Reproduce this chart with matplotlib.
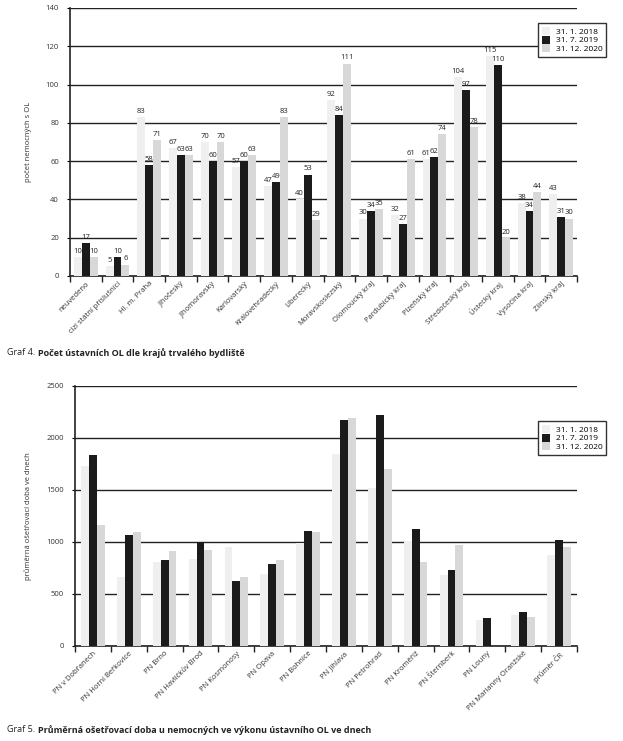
import matplotlib
matplotlib.use('Agg')
import matplotlib.pyplot as plt
import numpy as np

plt.rcParams['font.family'] = ['Open Sans', 'DejaVu Sans']

# Graf 4 data
kraje = ['neuvedeno', 'cizí státní příslušníci', 'Hl. m. Praha', 'Jihočeský',
         'Jihomoravský', 'Karlovarský', 'Královehradecký', 'Liberecký',
         'Moravskoslezský', 'Olomoucký kraj', 'Pardubický kraj', 'Plzeňský kraj',
         'Středočeský kraj', 'Ústecký kraj', 'Vysočina kraj', 'Zlínský kraj']
ol_2018 = [10, 5, 83, 67, 70, 57, 47, 40, 92, 30, 32, 61, 104, 115, 38, 43]
ol_2019 = [17, 10, 58, 63, 60, 60, 49, 53, 84, 34, 27, 62, 97, 110, 34, 31]
ol_2020 = [10, 6, 71, 63, 70, 63, 83, 29, 111, 35, 61, 74, 78, 20, 44, 30]
labels4 = ['31. 1. 2018', '31. 7. 2019', '31. 12. 2020']

# Graf 5 data
pn = ['PN v Dobřanech', 'PN Horní Beřkovice', 'PN Brno', 'PN Havlíčkův Brod',
      'PN Kosmonosy', 'PN Opava', 'PN Bohnice', 'PN Jihlava', 'PN Petrohrad',
      'PN Kroměříž', 'PN Šternberk', 'PN Louny', 'PN Marianny Oranžské', 'průměr ČR']
doba_2018 = [1730, 665, 810, 835, 950, 695, 990, 1845, 1520, 1010, 685, 250, 300, 875]
doba_2019 = [1840, 1065, 825, 1000, 625, 790, 1105, 2175, 2220, 1125, 730, 270, 325, 1020]
doba_2020 = [1165, 1095, 915, 925, 665, 825, 1095, 2195, 1700, 810, 975, 0, 280, 950]
labels5 = ['31. 1. 2018', '21. 7. 2019', '31. 12. 2020']

colors = ['#efefef', '#1b1b1b', '#d8d8d8']


def bar_chart(ax, cats, series, names, width, ymax, ystep, ylabel, values=False):
    x = np.arange(len(cats))
    for i, (s, c, n) in enumerate(zip(series, colors, names)):
        bars = ax.bar(x + (i - 1) * width, s, width, color=c, label=n, zorder=3)
        if values:
            for b, v in zip(bars, s):
                ax.text(b.get_x() + b.get_width() / 2, v + ymax * 0.008, str(v),
                        ha='center', va='bottom', fontsize=5.5, color='#222222', zorder=4)
    ax.set_xlim(-0.5, len(cats) - 0.5)
    ax.set_ylim(0, ymax)
    ax.set_yticks(np.arange(0, ymax + 1, ystep))
    ax.yaxis.grid(True, color='#222222', lw=1.0, zorder=1)
    ax.set_axisbelow(True)
    for s in ['top', 'right']:
        ax.spines[s].set_visible(False)
    for s in ['left', 'bottom']:
        ax.spines[s].set_color('#222222')
        ax.spines[s].set_linewidth(1.2)
    # tick marks at category boundaries, labels at centres
    ax.set_xticks(np.arange(len(cats) + 1) - 0.5)
    ax.set_xticklabels([])
    ax.set_xticks(x, minor=True)
    ax.set_xticklabels(cats, minor=True, rotation=45, ha='right',
                       rotation_mode='anchor', fontsize=5.5, color='#333333')
    ax.tick_params(axis='x', which='major', length=4, width=1, color='#222222', direction='out')
    ax.tick_params(axis='x', which='minor', length=0, pad=3)
    ax.tick_params(axis='y', length=2, width=0.8, labelsize=5.5, pad=6, labelcolor='#333333')
    ax.set_ylabel(ylabel, fontsize=5.5, labelpad=10, color='#333333')


def add_legend(ax, top):
    leg = ax.legend(loc='upper left', bbox_to_anchor=(538 / 623, 1 - top / 741),
                    bbox_transform=fig.transFigure, fontsize=6, frameon=True, fancybox=False,
                    edgecolor='#333333', framealpha=1, handlelength=1.0, handleheight=1.1,
                    handletextpad=0.7, labelspacing=0.0, borderpad=0.45, borderaxespad=0)
    leg.get_frame().set_linewidth(1.0)


fig = plt.figure(figsize=(6.23, 7.41), dpi=100)

ax1 = fig.add_axes([70 / 623, 1 - 276 / 741, 507 / 623, 268 / 741])
bar_chart(ax1, kraje, [ol_2018, ol_2019, ol_2020], labels4, 0.25, 140, 20,
          'počet nemocných s OL', values=True)
add_legend(ax1, 23)

ax2 = fig.add_axes([75 / 623, 1 - 646 / 741, 502 / 623, 260 / 741])
bar_chart(ax2, pn, [doba_2018, doba_2019, doba_2020], labels5, 0.22, 2500, 500,
          'průměrná ošetřovací doba ve dnech')
add_legend(ax2, 421)

# captions: "Graf N." regular, rest bold
fig.canvas.draw()
r = fig.canvas.get_renderer()
for y, pre, bold in [(353, 'Graf 4. ', 'Počet ústavních OL dle krajů trvalého bydliště'),
                     (730, 'Graf 5. ', 'Průměrná ošetřovací doba u nemocných ve výkonu ústavního OL ve dnech')]:
    t = fig.text(7 / 623, 1 - y / 741, pre, fontsize=6.5, va='center', color='#222222')
    w = t.get_window_extent(r).width
    fig.text(7 / 623 + w / 623, 1 - y / 741, bold, fontsize=6.5, va='center',
             fontweight='bold', color='#222222')

fig.savefig('out.png', dpi=100)
